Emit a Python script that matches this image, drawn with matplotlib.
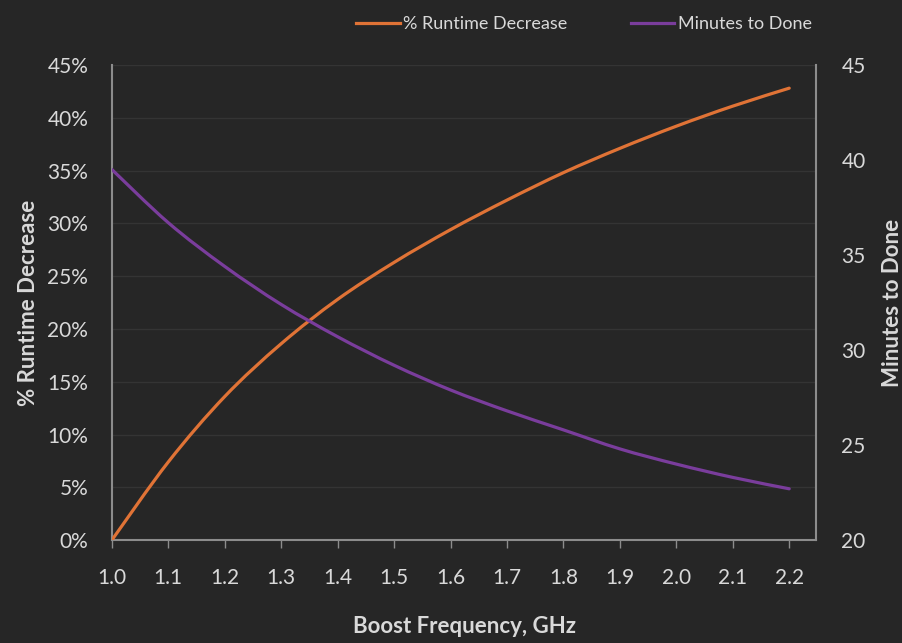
import matplotlib
matplotlib.use("Agg")
import matplotlib.pyplot as plt
from matplotlib.path import Path
from matplotlib.patches import PathPatch
from matplotlib.lines import Line2D
from matplotlib.ticker import FuncFormatter

plt.rcParams['font.family'] = ['Lato', 'DejaVu Sans']

freq_ghz = [1.0, 1.1, 1.2, 1.3, 1.4, 1.5, 1.6, 1.7, 1.8, 1.9, 2.0, 2.1, 2.2]
runtime_decrease_pct = [0.0, 7.4, 13.6, 18.6, 22.8, 26.3, 29.4, 32.2, 34.8, 37.1, 39.2, 41.1, 42.8]
minutes_to_done = [39.5, 36.7, 34.4, 32.4, 30.7, 29.2, 27.9, 26.8, 25.8, 24.8, 24.0, 23.3, 22.7]
x_ticks = [1.0, 1.1, 1.2, 1.3, 1.4, 1.5, 1.6, 1.7, 1.8, 1.9, 2.0, 2.1, 2.2]

bg = '#262626'
txt = '#d9d9d9'
orange = '#e07336'
purple = '#7a3d9c'
LW = 2.3


def smooth_path(xs, ys):
    """Catmull-Rom style smoothed line through the points, as cubic Bezier segments."""
    verts = [(xs[0], ys[0])]
    codes = [Path.MOVETO]
    n = len(xs)
    for i in range(n - 1):
        x0, y0 = (xs[i - 1], ys[i - 1]) if i > 0 else (xs[i], ys[i])
        x1, y1 = xs[i], ys[i]
        x2, y2 = xs[i + 1], ys[i + 1]
        x3, y3 = (xs[i + 2], ys[i + 2]) if i + 2 < n else (x2, y2)
        c1 = (x1 + (x2 - x0) / 6.0, y1 + (y2 - y0) / 6.0)
        c2 = (x2 - (x3 - x1) / 6.0, y2 - (y3 - y1) / 6.0)
        verts += [c1, c2, (x2, y2)]
        codes += [Path.CURVE4] * 3
    return Path(verts, codes)


fig = plt.figure(figsize=(9.02, 6.43), dpi=100, facecolor=bg)
ax = fig.add_axes([0.124, 0.160, 0.781, 0.739], facecolor=bg)
ax2 = ax.twinx()

ax.add_patch(PathPatch(smooth_path(freq_ghz, runtime_decrease_pct), fill=False,
                       edgecolor=orange, lw=LW, capstyle='round', zorder=3))
ax2.add_patch(PathPatch(smooth_path(freq_ghz, minutes_to_done), fill=False,
                        edgecolor=purple, lw=LW, capstyle='round', zorder=3))

ax.set_xlim(1.0, 2.248)
ax.set_ylim(0, 45)
ax2.set_ylim(20, 45)
ax.set_xticks(x_ticks)
ax.set_xticklabels([f'{v:.1f}' for v in x_ticks])
ax.set_yticks(range(0, 46, 5))
ax.yaxis.set_major_formatter(FuncFormatter(lambda v, p: f'{int(v)}%'))
ax2.set_yticks(range(20, 46, 5))

ax.grid(axis='y', color='#343434', lw=1.0)
ax.set_axisbelow(True)

for a in (ax, ax2):
    for s in a.spines.values():
        s.set_visible(False)
ax.spines['left'].set_visible(True)
ax.spines['bottom'].set_visible(True)
ax2.spines['right'].set_visible(True)
for s in (ax.spines['left'], ax.spines['bottom'], ax2.spines['right']):
    s.set_color('#8c8c8c')
    s.set_linewidth(1.5)

ax.tick_params(axis='x', colors='#8c8c8c', labelcolor=txt, labelsize=15, length=6, width=1, pad=14)
ax.tick_params(axis='y', length=0, labelcolor=txt, labelsize=15, pad=17)
ax2.tick_params(axis='y', length=0, labelcolor=txt, labelsize=15, pad=18)

ax.set_xlabel('Boost Frequency, GHz', color=txt, fontsize=16, fontweight='bold', labelpad=20)
ax.set_ylabel('% Runtime Decrease', color=txt, fontsize=16, fontweight='bold', labelpad=6)
ax2.set_ylabel('Minutes to Done', color=txt, fontsize=16, fontweight='bold', labelpad=12)

handles = [Line2D([], [], color=orange, lw=LW), Line2D([], [], color=purple, lw=LW)]
fig.legend(handles=handles, labels=['% Runtime Decrease', 'Minutes to Done'],
           loc='upper right', bbox_to_anchor=(0.918, 1.0), ncol=2,
           frameon=False, fontsize=13, labelcolor=txt, handlelength=2.4,
           handletextpad=0.2, columnspacing=3.5)

fig.savefig('out.png', dpi=100, facecolor=bg)
